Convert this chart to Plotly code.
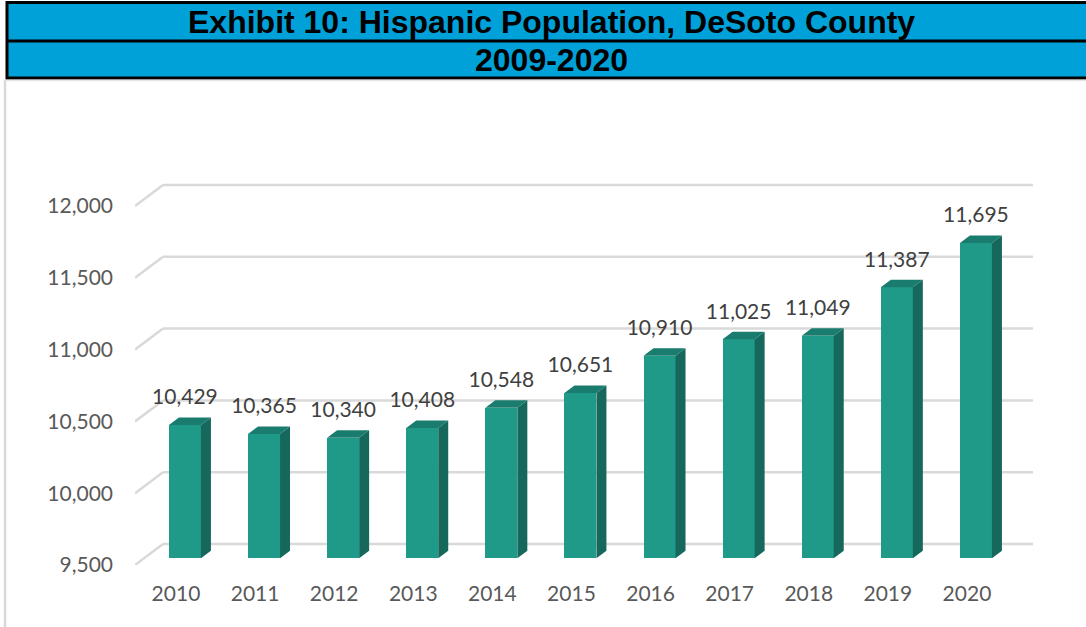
import plotly.graph_objects as go

# ---------------- data ----------------
years = ["2010", "2011", "2012", "2013", "2014", "2015", "2016", "2017", "2018", "2019", "2020"]
population = [10429, 10365, 10340, 10408, 10548, 10651, 10910, 11025, 11049, 11387, 11695]
y_ticks = [9500, 10000, 10500, 11000, 11500, 12000]
title_line1 = "Exhibit 10: Hispanic Population, DeSoto County"
title_line2 = "2009-2020"

# ---------------- geometry (3-D look) ----------------
W, H = 1086, 627
L, R, T, B = 135, 46, 100, 62
plot_w = W - L - R
plot_h = H - T - B
X_MIN, Y_MIN = -0.518, 9500.0
PX_PER_CAT = 79.1
PX_PER_UNIT = 0.1436
X_MAX = X_MIN + plot_w / PX_PER_CAT
Y_MAX = Y_MIN + plot_h / PX_PER_UNIT

DEPTH_DX = 28 / PX_PER_CAT      # total depth, in x units
DEPTH_DY = 21 / PX_PER_UNIT     # total depth, in y units
F_FRONT = 0.32                  # bar front face position in depth
F_BAR = 0.357                   # bar depth
BAR_W = 32 / PX_PER_CAT

FRONT = "#1F9A89"
SIDE = "#15685B"
TOP = "#1A7C6E"
GRID = "#D9D9D9"
LABEL_FONT = "Lato, Open Sans, sans-serif"

def px_x(px):
    return (px - L) / plot_w

def px_y(py):
    return (H - B - py) / plot_h

fig = go.Figure()

xs = list(range(len(years)))
x_shift = F_FRONT * DEPTH_DX
y_shift = F_FRONT * DEPTH_DY
bdx = F_BAR * DEPTH_DX
bdy = F_BAR * DEPTH_DY

# front faces
fig.add_trace(go.Bar(
    x=[i + x_shift for i in xs],
    y=[v - Y_MIN for v in population],
    base=Y_MIN + y_shift,
    width=BAR_W,
    marker=dict(color=FRONT, line=dict(width=0)),
    hoverinfo="skip", showlegend=False,
))

# side and top faces
sx, sy, tx, ty = [], [], [], []
for i, v in zip(xs, population):
    xl = i + x_shift - BAR_W / 2
    xr = i + x_shift + BAR_W / 2
    yb = Y_MIN + y_shift
    yt = v + y_shift
    sx += [xr, xr + bdx, xr + bdx, xr, xr, None]
    sy += [yb, yb + bdy, yt + bdy, yt, yb, None]
    tx += [xl, xr, xr + bdx, xl + bdx, xl, None]
    ty += [yt, yt, yt + bdy, yt + bdy, yt, None]
fig.add_trace(go.Scatter(x=sx, y=sy, mode="lines", fill="toself", fillcolor=SIDE,
                         line=dict(width=0, color=SIDE), hoverinfo="skip", showlegend=False))
fig.add_trace(go.Scatter(x=tx, y=ty, mode="lines", fill="toself", fillcolor=TOP,
                         line=dict(width=0, color=TOP), hoverinfo="skip", showlegend=False))

# data labels
fig.add_trace(go.Scatter(
    x=[i + x_shift for i in xs],
    y=[v + y_shift + 26 / PX_PER_UNIT for v in population],
    mode="text",
    text=[f"{v:,}" for v in population],
    textposition="middle center",
    textfont=dict(family=LABEL_FONT, size=21, color="#404040"),
    hoverinfo="skip", showlegend=False,
))

shapes = []
# perspective gridlines (behind the bars)
x_back_end = (1033 - 176) / PX_PER_CAT
for v in y_ticks:
    shapes.append(dict(type="line", xref="x", yref="y", layer="below",
                       x0=X_MIN, y0=v, x1=X_MIN + DEPTH_DX, y1=v + DEPTH_DY,
                       line=dict(color=GRID, width=2.5)))
    shapes.append(dict(type="line", xref="x", yref="y", layer="below",
                       x0=X_MIN + DEPTH_DX, y0=v + DEPTH_DY, x1=x_back_end, y1=v + DEPTH_DY,
                       line=dict(color=GRID, width=2.5)))

shapes += [
    # blue title band
    dict(type="rect", xref="paper", yref="paper",
         x0=px_x(7), x1=px_x(1095), y0=px_y(78), y1=px_y(2.5),
         fillcolor="#00A0D8", line=dict(color="black", width=3), layer="above"),
    dict(type="line", xref="paper", yref="paper",
         x0=px_x(7), x1=px_x(1095), y0=px_y(41), y1=px_y(41),
         line=dict(color="black", width=3), layer="above"),
    # light frame below
    dict(type="line", xref="paper", yref="paper",
         x0=px_x(5), x1=px_x(5), y0=px_y(80), y1=px_y(630),
         line=dict(color="#D9D9D9", width=2.5)),
    dict(type="line", xref="paper", yref="paper",
         x0=px_x(5), x1=px_x(1090), y0=px_y(80.5), y1=px_y(80.5),
         line=dict(color="#E6E6E6", width=1.5)),
]

annotations = [
    dict(text=f"<b>{title_line1}</b>", xref="paper", yref="paper",
         x=px_x(551), y=px_y(22), showarrow=False, xanchor="center", yanchor="middle",
         font=dict(family="Liberation Sans, Arial, sans-serif", size=32, color="black")),
    dict(text=f"<b>{title_line2}</b>", xref="paper", yref="paper",
         x=px_x(551), y=px_y(60), showarrow=False, xanchor="center", yanchor="middle",
         font=dict(family="Liberation Sans, Arial, sans-serif", size=32, color="black")),
]

fig.update_layout(
    width=W, height=H,
    margin=dict(l=L, r=R, t=T, b=B, pad=0),
    paper_bgcolor="white", plot_bgcolor="white",
    shapes=shapes, annotations=annotations,
    bargap=0,
    xaxis=dict(range=[X_MIN, X_MAX], tickvals=xs, ticktext=years, showgrid=False,
               zeroline=False, showline=False, ticks="", ticklabelstandoff=14,
               tickfont=dict(family=LABEL_FONT, size=21, color="#595959"),
               fixedrange=True),
    yaxis=dict(range=[Y_MIN, Y_MAX], tickvals=y_ticks, tickformat=",", showgrid=False,
               zeroline=False, showline=False, ticks="", ticklabelstandoff=21,
               tickfont=dict(family=LABEL_FONT, size=21, color="#595959"),
               fixedrange=True),
)

fig.write_html("out.html", config={"displayModeBar": False},
               post_script="document.body.style.margin='0px';")
